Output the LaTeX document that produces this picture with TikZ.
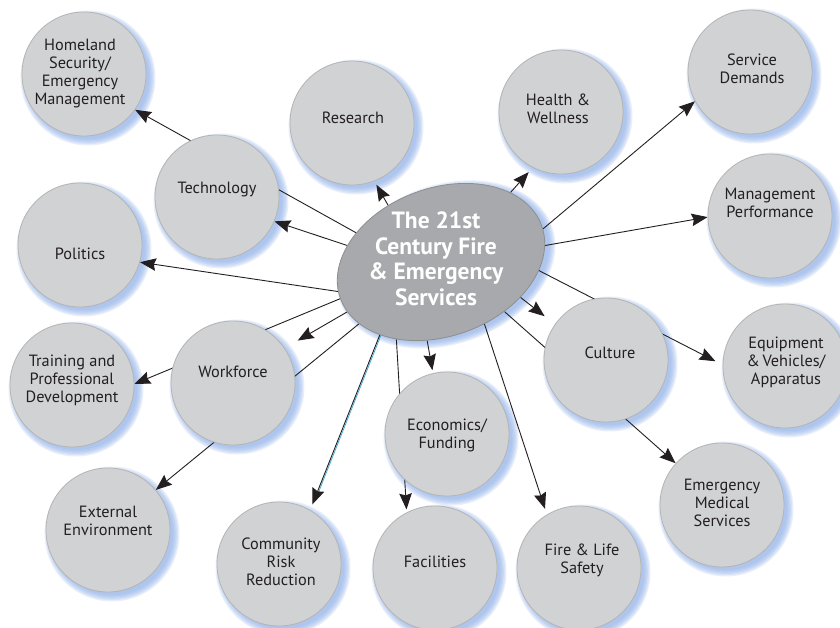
\documentclass[tikz,border=0pt]{standalone}
\usepackage{fontspec}
\setmainfont{PT Sans}
\usetikzlibrary{arrows.meta,shapes.geometric,calc}
\pgfdeclarelayer{paper}
\pgfdeclarelayer{glow}
\pgfdeclarelayer{lines}
\pgfsetlayers{paper,glow,lines,main}
\definecolor{disk}{HTML}{D1D2D4}
\definecolor{diskline}{HTML}{B4B4B4}
\definecolor{hubfill}{HTML}{A7A9AC}
\definecolor{hubline}{HTML}{8E8E8E}
\definecolor{glowc}{HTML}{92B2EA}
\definecolor{ink}{HTML}{231F20}
\definecolor{cyanline}{HTML}{3BA6D6}
\begin{document}
\begin{tikzpicture}[x=1pt,y=-1pt,
  disk/.style={circle,fill=disk,draw=diskline,line width=0.8pt,minimum size=124pt,inner sep=0pt},
  lbl/.style={font=\fontsize{16.3}{18}\selectfont,text=ink,align=center,inner sep=0pt},
  conn/.style={draw=ink,line width=0.9pt,-{Stealth[length=16pt,width=12.5pt,inset=2pt]}}]
\useasboundingbox (0,0) rectangle (840,628);
\begin{pgfonlayer}{paper}
\fill[white] (0,0) rectangle (840,628);
\end{pgfonlayer}

% circles
\node[disk] (homeland) at (84,74) {};
\node[disk] (research) at (352,123) {};
\node[disk] (health) at (561,112) {};
\node[disk] (service) at (750,72) {};
\node[disk] (mgmt) at (770,216) {};
\node[disk] (tech) at (217,197) {};
\node[disk] (politics) at (80,245) {};
\node[disk] (culture) at (606,360) {};
\node[disk] (equip) at (785,366) {};
\node[disk] (training) at (72,385) {};
\node[disk] (workforce) at (233,383) {};
\node[disk] (econ) at (447,434) {};
\node[disk] (ems) at (722,505) {};
\node[disk] (external) at (108,530) {};
\node[disk] (community) at (279,564) {};
\node[disk] (facilities) at (435,568) {};
\node[disk] (fire) at (579,568) {};
\node[ellipse,fill=hubfill,draw=hubline,line width=0.8pt,minimum width=214pt,minimum height=148pt,inner sep=0pt,rotate=20] (hub) at (441,262) {};

% labels
\node[lbl] (homelandT) at (80,74) {Homeland\\Security/\\Emergency\\Management};
\node[lbl] (researchT) at (353,118) {Research};
\node[lbl] (healthT) at (558,109) {Health \&\\Wellness};
\node[lbl] (serviceT) at (752,69) {Service\\Demands};
\node[lbl] (mgmtT) at (770,203) {Management\\Performance};
\node[lbl] (techT) at (217,190) {Technology};
\node[lbl] (politicsT) at (80,254) {Politics};
\node[lbl] (cultureT) at (610,353) {Culture};
\node[lbl] (equipT) at (786,362) {Equipment\\\&\,Vehicles/\\Apparatus};
\node[lbl] (trainingT) at (72,380) {Training and\\Professional\\Development};
\node[lbl] (workforceT) at (233,372) {Workforce};
\node[lbl] (econT) at (447,435) {Economics/\\Funding};
\node[lbl] (emsT) at (722,503) {Emergency\\Medical\\Services};
\node[lbl] (externalT) at (108,521) {External\\Environment};
\node[lbl] (communityT) at (281,562) {Community\\Risk\\Reduction};
\node[lbl] (facilitiesT) at (435,562) {Facilities};
\node[lbl] (fireT) at (582,560) {Fire \& Life\\Safety};
\node[font=\fontsize{23.5}{25.5}\selectfont\bfseries,text=white,align=center,inner sep=0pt] (hubT) at (436,259) {The 21st\\Century Fire\\\& Emergency\\Services};

% glow
\begin{pgfonlayer}{glow}
\foreach \n in {homeland,research,health,service,mgmt,tech,politics,culture,equip,training,workforce,econ,ems,external,community,facilities,fire}{
  \foreach \k in {0,...,5}{
    \fill[glowc,opacity=0.2] ($(\n.center)+(4,4)$) circle[radius=61+1.3*\k];
  }
}
\foreach \k in {0,...,5}{
  \fill[glowc,opacity=0.2,rotate around={20:($(hub.center)+(4,4)$)}] ($(hub.center)+(4,4)$) ellipse[x radius=106+1.3*\k,y radius=73+1.3*\k];
}
\end{pgfonlayer}

% connectors
\begin{pgfonlayer}{lines}
\draw[conn] (hub.141.4) -- (homeland.-35.6);
\draw[conn] (hub.150.2) -- (tech.-23);
\draw[conn] (hub.176.6) -- (politics.-16.4);
\draw[conn] (hub.180.6) -- (training.1);
\draw[conn,shorten >=15pt] (hub.188) -- (workforce.34.5);
\draw[conn] (hub.197) -- (external.40.5);
\draw[cyanline,line width=0.7pt,shorten >=20pt] ([xshift=1.3pt]hub.210.3) -- ([xshift=1.3pt]community.60.9);
\draw[conn,shorten >=6pt] (hub.210.3) -- (community.60.9);
\draw[conn,shorten >=3pt] (hub.220) -- (facilities.117.3);
\draw[conn,shorten >=3pt] (hub.240.5) -- (econ.103);
\draw[conn,shorten >=6pt] (hub.285.5) -- (fire.121.8);
\draw[conn] (hub.302.3) -- (ems.138.9);
\draw[conn,shorten >=13pt] (hub.316.9) -- (culture.145.9);
\draw[conn,shorten >=8pt] (hub.335.4) -- (equip.179);
\draw[conn] (hub.-11.8) -- (mgmt.181.8);
\draw[conn] (hub.-2.6) -- (service.208.6);
\draw[conn,shorten >=6pt] (hub.25) -- (health.243);
\draw[conn,shorten >=4pt] (hub.113.5) -- (research.-69.6);
\end{pgfonlayer}
\end{tikzpicture}
\end{document}
